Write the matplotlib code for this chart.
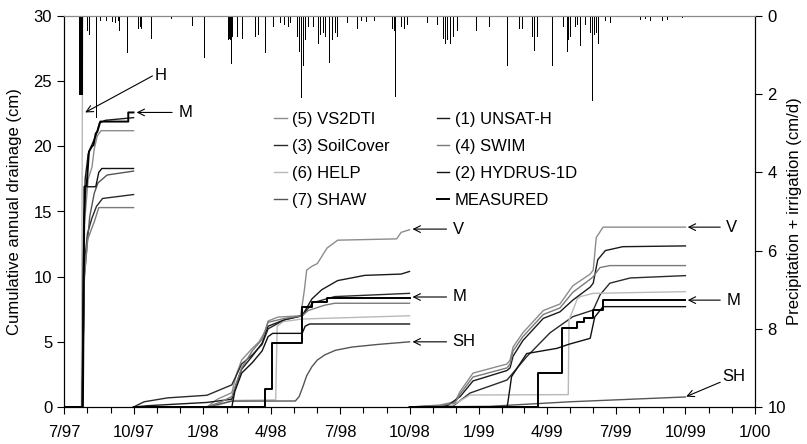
import matplotlib
matplotlib.use('Agg')
import matplotlib.pyplot as plt
import matplotlib.dates as mdates
from matplotlib.ticker import FuncFormatter
from datetime import datetime

plt.rcParams['font.family'] = ['Liberation Sans', 'DejaVu Sans']
plt.rcParams['font.size'] = 12

# daily precipitation + irrigation (cm/d)
rain_dates = ['1997-07-21', '1997-07-22', '1997-07-23', '1997-07-24', '1997-07-25',
              '1997-08-01', '1997-08-03', '1997-08-12', '1997-08-18', '1997-08-26',
              '1997-09-02', '1997-09-06', '1997-09-10', '1997-09-12', '1997-09-22',
              '1997-10-07', '1997-10-09', '1997-10-11', '1997-10-24', '1997-11-19',
              '1997-12-17', '1998-01-02', '1998-02-03', '1998-02-04', '1998-02-05',
              '1998-02-07', '1998-02-08', '1998-02-15', '1998-02-21', '1998-03-11',
              '1998-03-14', '1998-03-24', '1998-04-03', '1998-04-13', '1998-04-18',
              '1998-04-23', '1998-04-26', '1998-05-05', '1998-05-08', '1998-05-10',
              '1998-05-13', '1998-05-16', '1998-05-20', '1998-05-26', '1998-06-02',
              '1998-06-05', '1998-06-08', '1998-06-11', '1998-06-16', '1998-06-20',
              '1998-06-24', '1998-06-27', '1998-07-10', '1998-07-23', '1998-07-29',
              '1998-08-05', '1998-08-15', '1998-09-08', '1998-09-10', '1998-09-12',
              '1998-09-20', '1998-09-24', '1998-09-28', '1998-10-24', '1998-11-06',
              '1998-11-14', '1998-11-17', '1998-11-20', '1998-11-24', '1998-11-28',
              '1998-12-03', '1998-12-28', '1999-01-14', '1999-02-07', '1999-02-23',
              '1999-02-27', '1999-03-12', '1999-03-15', '1999-03-19', '1999-04-07',
              '1999-04-22', '1999-04-27', '1999-04-29', '1999-05-01', '1999-05-08',
              '1999-05-10', '1999-05-14', '1999-05-21', '1999-05-28', '1999-05-30',
              '1999-06-02', '1999-06-05', '1999-06-07', '1999-06-16', '1999-06-23',
              '1999-08-02', '1999-08-08', '1999-08-15', '1999-08-31', '1999-09-06',
              '1999-09-27']
rain_cm = [2.0, 2.0, 2.0, 2.0, 2.0,
           0.36, 0.45, 2.58, 0.10, 0.10,
           0.12, 0.15, 0.10, 0.36, 0.92,
           0.30, 0.25, 0.30, 0.57, 0.05,
           0.23, 1.05, 0.60, 0.55, 0.60,
           1.20, 0.50, 0.50, 0.55, 0.50,
           0.45, 0.92, 0.25, 0.15, 0.20,
           0.25, 0.15, 0.50, 0.90, 2.07,
           1.25, 0.60, 0.25, 0.25, 0.70,
           0.45, 0.40, 0.50, 1.17, 0.60,
           0.40, 0.50, 0.15, 0.30, 0.10,
           0.12, 0.10, 0.30, 0.35, 2.05,
           0.25, 0.30, 0.20, 0.15, 0.20,
           0.55, 0.70, 0.60, 0.70, 0.50,
           0.35, 0.35, 0.25, 1.25, 0.30,
           0.30, 0.50, 0.88, 0.50, 1.25,
           0.25, 0.90, 0.60, 0.50, 0.25,
           0.20, 0.75, 0.20, 0.40, 2.15,
           0.45, 0.40, 0.70, 0.10, 0.15,
           0.08, 0.05, 0.10, 0.10, 0.08,
           0.03]

# cumulative drainage (cm), one list per water year
vs2dti = [
    [('1997-07-01', 0), ('1997-07-25', 0), ('1997-07-28', 14), ('1997-08-02', 17.5), ('1997-08-07', 18.4),
     ('1997-08-10', 19.8), ('1997-08-14', 20.8), ('1997-08-19', 21.2), ('1997-10-01', 21.2)],
    [('1997-10-01', 0), ('1998-01-06', 0), ('1998-01-20', 0.6), ('1998-02-08', 1.1), ('1998-02-14', 2.5),
     ('1998-02-21', 3.6), ('1998-03-07', 4.5), ('1998-03-16', 5.0), ('1998-03-24', 5.8), ('1998-03-28', 6.6),
     ('1998-04-10', 6.9), ('1998-05-10', 7.0), ('1998-05-15', 9.0), ('1998-05-18', 10.5), ('1998-05-25', 10.8),
     ('1998-06-01', 11.0), ('1998-06-14', 12.2), ('1998-06-28', 12.8), ('1998-09-14', 12.9),
     ('1998-09-20', 13.4), ('1998-10-01', 13.6)],
    [('1998-10-01', 0), ('1998-11-10', 0.15), ('1998-11-30', 0.4), ('1998-12-07', 1.2), ('1998-12-24', 2.6),
     ('1999-02-07', 3.3), ('1999-02-11', 3.6), ('1999-02-15', 4.6), ('1999-02-28', 5.7), ('1999-03-27', 7.4),
     ('1999-04-18', 7.9), ('1999-05-05', 9.3), ('1999-05-28', 10.2), ('1999-06-01', 10.5),
     ('1999-06-05', 13.0), ('1999-06-14', 13.8), ('1999-10-01', 13.8)],
]
unsat_h = [
    [('1997-07-01', 0), ('1997-07-25', 0), ('1997-07-27', 12), ('1997-07-29', 17.5), ('1997-08-02', 19.4),
     ('1997-08-06', 20.0), ('1997-08-12', 20.8), ('1997-08-17', 21.8), ('1997-08-25', 22.0), ('1997-10-01', 22.2)],
    [('1997-10-01', 0), ('1997-10-20', 0.1), ('1998-01-06', 0.35), ('1998-02-08', 0.6), ('1998-02-14', 1.8),
     ('1998-02-21', 2.9), ('1998-03-07', 3.9), ('1998-03-20', 4.9), ('1998-03-28', 6.2), ('1998-04-19', 6.7),
     ('1998-05-12', 7.0), ('1998-05-25', 8.3), ('1998-06-07', 9.0), ('1998-06-28', 9.7), ('1998-08-03', 10.1),
     ('1998-09-20', 10.2), ('1998-10-01', 10.4)],
    [('1998-10-01', 0), ('1998-11-20', 0.1), ('1998-12-07', 0.8), ('1998-12-24', 2.0), ('1999-02-07', 2.8),
     ('1999-02-11', 3.0), ('1999-02-15', 3.9), ('1999-02-28', 5.1), ('1999-03-27', 6.8), ('1999-04-18', 7.3),
     ('1999-05-05', 8.2), ('1999-05-28', 9.2), ('1999-06-01', 9.5), ('1999-06-07', 11.3), ('1999-06-17', 12.0),
     ('1999-07-10', 12.3), ('1999-10-01', 12.36)],
]
soilcover = [
    [('1997-07-01', 0), ('1997-07-25', 0), ('1997-07-28', 11), ('1997-08-01', 13.3), ('1997-08-07', 14.5),
     ('1997-08-13', 15.4), ('1997-08-21', 16.0), ('1997-10-01', 16.3)],
    [('1997-10-01', 0), ('1997-10-15', 0.4), ('1997-11-15', 0.7), ('1998-01-06', 0.9), ('1998-02-08', 1.7),
     ('1998-02-21', 3.3), ('1998-03-07', 4.0), ('1998-03-20', 4.8), ('1998-03-28', 6.0), ('1998-04-19', 6.7),
     ('1998-05-12', 7.0), ('1998-05-26', 8.0), ('1998-06-24', 8.47), ('1998-10-01', 8.72)],
    [('1998-10-01', 0), ('1998-11-26', 0), ('1998-12-20', 1.07), ('1999-02-07', 2.07), ('1999-03-05', 3.86),
     ('1999-04-05', 5.7), ('1999-05-05', 6.93), ('1999-06-01', 7.44), ('1999-06-10', 8.6), ('1999-06-23', 9.5),
     ('1999-07-20', 9.9), ('1999-10-01', 10.08)],
]
swim = [
    [('1997-07-01', 0), ('1997-07-25', 0), ('1997-07-28', 10), ('1997-08-01', 12.8), ('1997-08-06', 13.6),
     ('1997-08-10', 14.2), ('1997-08-16', 15.3), ('1997-10-01', 15.3)],
    [('1997-10-01', 0), ('1998-01-06', 0), ('1998-01-25', 0.4), ('1998-02-08', 0.8), ('1998-02-21', 3.0),
     ('1998-03-07', 4.3), ('1998-03-20', 5.2), ('1998-03-28', 6.5), ('1998-04-19', 6.8), ('1998-05-12', 7.0),
     ('1998-05-20', 7.4), ('1998-06-10', 7.8), ('1998-06-24', 7.96), ('1998-10-01', 7.96)],
    [('1998-10-01', 0), ('1998-11-10', 0.1), ('1998-11-30', 0.3), ('1998-12-07', 1.0), ('1998-12-24', 2.3),
     ('1999-02-07', 3.0), ('1999-02-11', 3.3), ('1999-02-15', 4.3), ('1999-02-28', 5.4), ('1999-03-27', 7.1),
     ('1999-04-18', 7.6), ('1999-05-05', 8.8), ('1999-05-28', 9.8), ('1999-06-01', 10.0), ('1999-06-10', 10.7),
     ('1999-06-23', 10.85), ('1999-10-01', 10.85)],
]
help_m = [
    [('1997-07-01', 0), ('1997-07-24', 0), ('1997-07-26', 35), ('1997-10-01', 35)],
    [('1997-10-01', 0), ('1998-01-15', 0), ('1998-02-08', 0.5), ('1998-04-07', 0.55), ('1998-04-09', 6.2),
     ('1998-04-17', 6.55), ('1998-05-12', 6.75), ('1998-10-01', 7.0)],
    [('1998-10-01', 0), ('1998-11-26', 0.1), ('1998-12-20', 0.92), ('1999-04-29', 0.95), ('1999-04-30', 6.67),
     ('1999-05-11', 8.3), ('1999-05-15', 8.47), ('1999-06-01', 8.72), ('1999-10-01', 8.85)],
]
hydrus = [
    [('1997-07-01', 0), ('1997-07-25', 0), ('1997-07-27', 14), ('1997-07-30', 16.9), ('1997-08-12', 16.9),
     ('1997-08-16', 18.0), ('1997-08-20', 18.3), ('1997-10-01', 18.3)],
    [('1997-10-01', 0), ('1998-02-08', 0), ('1998-02-12', 1.2), ('1998-02-21', 2.6), ('1998-03-07', 3.4),
     ('1998-03-20', 4.3), ('1998-03-28', 5.4), ('1998-04-03', 5.65), ('1998-05-12', 5.65), ('1998-05-16', 6.2),
     ('1998-05-22', 6.37), ('1998-10-01', 6.37)],
    [('1998-10-01', 0), ('1999-02-07', 0), ('1999-02-08', 0.3), ('1999-02-13', 2.33), ('1999-03-05', 4.1),
     ('1999-04-14', 4.5), ('1999-04-29', 4.8), ('1999-05-28', 5.27), ('1999-06-03', 6.9), ('1999-06-14', 7.7),
     ('1999-10-01', 7.7)],
]
shaw = [
    [('1997-07-01', 0), ('1997-07-25', 0), ('1997-07-28', 10), ('1997-08-04', 14.6), ('1997-08-10', 16.4),
     ('1997-08-15', 17.2), ('1997-08-27', 17.8), ('1997-10-01', 18.1)],
    [('1997-10-01', 0), ('1998-01-06', 0), ('1998-02-08', 0.45), ('1998-05-03', 0.46), ('1998-05-08', 0.8),
     ('1998-05-13', 1.56), ('1998-05-18', 2.4), ('1998-05-25', 3.1), ('1998-06-01', 3.6), ('1998-06-11', 4.0),
     ('1998-06-25', 4.35), ('1998-07-17', 4.6), ('1998-08-20', 4.8), ('1998-10-01', 5.0)],
    [('1998-10-01', 0), ('1999-01-15', 0.05), ('1999-03-01', 0.2), ('1999-05-01', 0.4), ('1999-10-01', 0.77)],
]
measured = [
    [('1997-07-01', 0), ('1997-07-26', 0), ('1997-07-28', 16.9), ('1997-07-31', 17.0), ('1997-08-03', 19.6),
     ('1997-08-07', 20.0), ('1997-08-09', 20.1), ('1997-08-12', 21.0), ('1997-08-14', 21.1), ('1997-08-18', 21.9),
     ('1997-09-24', 21.9), ('1997-09-24', 22.6), ('1997-10-01', 22.6)],
    [('1997-10-01', 0), ('1998-03-24', 0), ('1998-03-24', 1.36), ('1998-04-02', 1.36), ('1998-04-02', 4.94),
     ('1998-05-12', 4.94), ('1998-05-12', 7.7), ('1998-05-25', 7.7), ('1998-05-25', 8.08), ('1998-06-14', 8.08),
     ('1998-06-14', 8.4), ('1998-10-01', 8.4)],
    [('1998-10-01', 0), ('1999-03-20', 0), ('1999-03-20', 2.6), ('1999-04-21', 2.6), ('1999-04-21', 6.06),
     ('1999-05-11', 6.06), ('1999-05-11', 6.55), ('1999-05-20', 6.55), ('1999-05-20', 6.8), ('1999-06-01', 6.8),
     ('1999-06-01', 7.44), ('1999-06-14', 7.44), ('1999-06-14', 8.2), ('1999-10-01', 8.2)],
]


def d(s):
    return datetime.strptime(s, '%Y-%m-%d')


fig = plt.figure(figsize=(8.07, 4.44), dpi=100)
ax = fig.add_axes([64 / 807, 37 / 444, 691 / 807, 391 / 444])
ax2 = ax.twinx()

series = [
    (vs2dti, '(5) VS2DTI', '#8c8c8c', 1.0),
    (soilcover, '(3) SoilCover', '#2a2a2a', 1.0),
    (help_m, '(6) HELP', '#b9b9b9', 1.0),
    (shaw, '(7) SHAW', '#555555', 1.0),
    (unsat_h, '(1) UNSAT-H', '#1a1a1a', 1.0),
    (swim, '(4) SWIM', '#7a7a7a', 1.0),
    (hydrus, '(2) HYDRUS-1D', '#111111', 1.0),
    (measured, 'MEASURED', '#000000', 1.4),
]
handles = []
for segs, name, col, lw in series:
    for i, seg in enumerate(segs):
        ln, = ax.plot([d(a) for a, b in seg], [b for a, b in seg], color=col, lw=lw,
                      label=name if i == 0 else None)
        if i == 0:
            handles.append(ln)

ax2.vlines([d(s) for s in rain_dates], 0, rain_cm, color='black', lw=0.72, antialiased=False)

x0, x1 = d('1997-07-01'), d('2000-01-01')
ax.set_xlim(x0, x1)
ax.set_ylim(0, 30)
ax2.set_ylim(10, 0)
ax.set_yticks(range(0, 31, 5))
ax2.set_yticks(range(0, 11, 2))

ax.xaxis.set_major_locator(mdates.MonthLocator(bymonth=[1, 4, 7, 10]))
ax.xaxis.set_minor_locator(mdates.MonthLocator())
ax.xaxis.set_major_formatter(FuncFormatter(
    lambda v, p: '%d/%s' % (mdates.num2date(v).month, mdates.num2date(v).strftime('%y'))))

for a in (ax, ax2):
    a.tick_params(which='major', direction='out', length=5, width=0.8, labelsize=12, colors='black')
    a.tick_params(which='minor', direction='out', length=4, width=0.8)
    a.spines['top'].set_color('#8a8a8a')
ax.tick_params(axis='x', pad=8)
ax2.tick_params(axis='y', pad=4)

ax.set_ylabel('Cumulative annual drainage (cm)', fontsize=12, labelpad=8)
ax2.set_ylabel('Precipitation + irrigation (cm/d)', fontsize=12, rotation=90, labelpad=1)

ax.legend(handles=handles, ncol=2, frameon=False, loc='upper left',
          bbox_to_anchor=(0.292, 0.775), handlelength=0.75, handletextpad=0.35,
          labelspacing=0.72, columnspacing=2.8, fontsize=12, borderpad=0)

# labels with arrows
arrow = dict(arrowstyle='->', lw=0.8, color='black', shrinkA=0, shrinkB=0)
notes = [
    ('H', ('1997-07-29', 22.6), ('1997-10-26', 25.4), ('1997-10-29', 25.4)),
    ('M', ('1997-10-05', 22.6), ('1997-11-21', 22.6), ('1997-11-30', 22.6)),
    ('V', ('1998-10-05', 13.65), ('1998-11-19', 13.65), ('1998-11-27', 13.65)),
    ('M', ('1998-10-05', 8.44), ('1998-11-19', 8.44), ('1998-11-27', 8.44)),
    ('SH', ('1998-10-05', 5.0), ('1998-11-19', 5.0), ('1998-11-27', 5.0)),
    ('V', ('1999-10-04', 13.8), ('1999-11-16', 13.8), ('1999-11-24', 13.8)),
    ('M', ('1999-10-04', 8.2), ('1999-11-16', 8.2), ('1999-11-24', 8.2)),
    ('SH', ('1999-10-02', 0.8), ('1999-11-16', 1.9), ('1999-11-19', 2.35)),
]
for txt, tip, tail, pos in notes:
    ax.annotate('', xy=(d(tip[0]), tip[1]), xytext=(d(tail[0]), tail[1]), arrowprops=arrow)
    ax.text(d(pos[0]), pos[1], txt, fontsize=12, va='center', ha='left')

fig.savefig('out.png', dpi=100)
